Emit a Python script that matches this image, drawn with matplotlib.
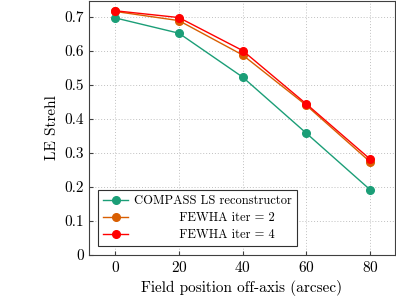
import matplotlib
matplotlib.use("Agg")
import matplotlib.pyplot as plt

plt.rcParams['font.family'] = 'serif'
plt.rcParams['font.serif'] = ['cmr10', 'DejaVu Serif']
plt.rcParams['mathtext.fontset'] = 'cm'
plt.rcParams['axes.formatter.use_mathtext'] = True

# dati
field = [0, 20, 40, 60, 80]  # arcsec
compass = [0.697, 0.652, 0.523, 0.358, 0.192]
fewha2 = [0.716, 0.689, 0.588, 0.440, 0.274]
fewha4 = [0.718, 0.698, 0.601, 0.444, 0.282]

fig = plt.figure(figsize=(3.96, 3.02), dpi=100)
ax = fig.add_axes([0.225, 0.156, 0.772, 0.841])

ax.plot(field, compass, '-o', color='#1b9e77', lw=1, ms=5.5, label='COMPASS LS reconstructor')
ax.plot(field, fewha2, '-o', color='#d95f02', lw=1, ms=5.5, label='           FEWHA iter = 2')
ax.plot(field, fewha4, '-o', color='#ff0000', lw=1, ms=5.5, label='           FEWHA iter = 4')

ax.set_xlim(-8.2, 87.8)
ax.set_ylim(0, 0.747)
ax.set_xticks(field)
ax.set_yticks([0, 0.1, 0.2, 0.3, 0.4, 0.5, 0.6, 0.7])
ax.set_yticklabels(['0', '0.1', '0.2', '0.3', '0.4', '0.5', '0.6', '0.7'])
ax.grid(True, ls=(0, (1, 2)), color='#c0c0c0', lw=0.7)
ax.tick_params(direction='in', length=3, labelsize=11, color='#404040')
for s in ax.spines.values():
    s.set_color('#404040')
ax.set_xlabel('Field position off-axis (arcsec)', fontsize=11)
ax.set_ylabel('LE Strehl', fontsize=11)

leg = ax.legend(loc='lower left', fontsize=9, fancybox=False, edgecolor='#303030',
                framealpha=1, borderaxespad=0.72, handlelength=2.0, handletextpad=0.5,
                borderpad=0.4, labelspacing=0.38)
leg.get_frame().set_linewidth(0.8)

fig.savefig('out.png', dpi=100)
